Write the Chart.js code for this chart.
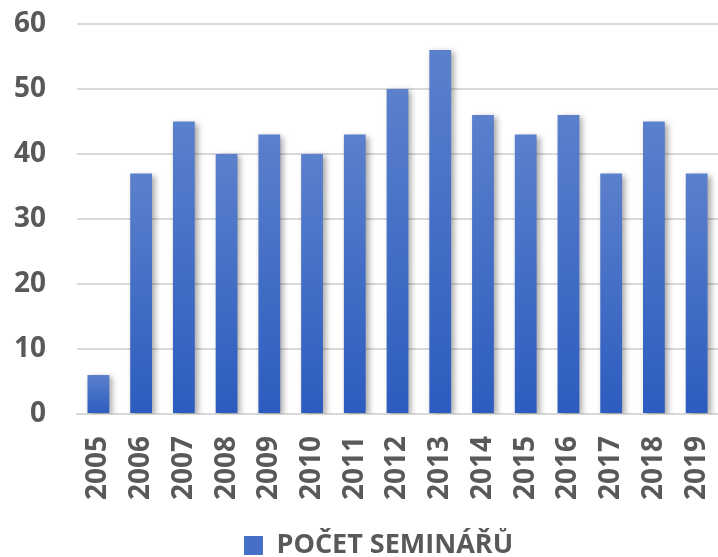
<!DOCTYPE html>
<html lang="cs">
<head>
<meta charset="UTF-8">
<title>Počet seminářů</title>
<script src="https://cdn.jsdelivr.net/npm/chart.js@4"></script>
<style>
  body { margin: 0; background: #fff; }
  #wrap { width: 718px; height: 557px; }
</style>
</head>
<body>
<div id="wrap"><canvas id="chart"></canvas></div>
<script>
  var years = ['2005','2006','2007','2008','2009','2010','2011','2012','2013','2014','2015','2016','2017','2018','2019'];
  var seminars = [6, 37, 45, 40, 43, 40, 43, 50, 56, 46, 43, 46, 37, 45, 37];
  var yTicks = [0, 10, 20, 30, 40, 50, 60];
  var seriesName = 'POČET SEMINÁŘŮ';

  var textColor = '#595959';
  var fontFamily = '"Open Sans", "Liberation Sans", sans-serif';

  // each bar gets its own gradient, light at the top, darker at the bottom
  function barFill(ctx) {
    var chart = ctx.chart;
    var y = chart.scales.y;
    if (!chart.chartArea || !y || ctx.dataIndex === undefined) return '#3d68c4';
    var top = y.getPixelForValue(ctx.raw);
    var base = y.getPixelForValue(0);
    if (!isFinite(top) || !isFinite(base) || top === base) return '#3d68c4';
    var g = chart.ctx.createLinearGradient(0, top, 0, base);
    g.addColorStop(0, '#5b80cc');
    g.addColorStop(1, '#2c5cbf');
    return g;
  }

  // soft shadow behind the bars
  var barShadow = {
    id: 'barShadow',
    beforeDatasetsDraw: function (chart) {
      var c = chart.ctx;
      c.save();
      c.shadowColor = 'rgba(0,0,0,0.35)';
      c.shadowBlur = 6;
      c.shadowOffsetX = 3;
      c.shadowOffsetY = 2;
    },
    afterDatasetsDraw: function (chart) {
      chart.ctx.restore();
    }
  };

  // legend in the original sits a bit right of centre
  var legendShift = {
    id: 'legendShift',
    afterLayout: function (chart) {
      if (!chart.legend) return;
      chart.legend.left += 28;
      chart.legend.right += 28;
    }
  };

  new Chart(document.getElementById('chart'), {
    type: 'bar',
    data: {
      labels: years,
      datasets: [{
        label: seriesName,
        data: seminars,
        backgroundColor: barFill,
        borderWidth: 0,
        categoryPercentage: 1,
        barPercentage: 0.51
      }]
    },
    options: {
      responsive: true,
      maintainAspectRatio: false,
      animation: false,
      layout: { padding: { left: -17, right: 0, top: 24, bottom: -12 } },
      plugins: {
        tooltip: { enabled: false },
        legend: {
          position: 'bottom',
          labels: {
            color: textColor,
            font: { family: fontFamily, size: 27, weight: 'bold' },
            boxWidth: 19,
            boxHeight: 19,
            padding: 4,
            generateLabels: function (chart) {
              var items = Chart.defaults.plugins.legend.labels.generateLabels(chart);
              items.forEach(function (it) {
                it.fillStyle = '#4670c8';
                it.strokeStyle = '#4670c8';
                it.lineWidth = 0;
              });
              return items;
            }
          }
        }
      },
      scales: {
        x: {
          grid: { display: false },
          border: { display: true, color: '#d9d9d9', width: 2 },
          ticks: {
            color: textColor,
            font: { family: fontFamily, size: 28, weight: 'bold' },
            minRotation: 90,
            maxRotation: 90,
            padding: 14
          },
          afterFit: function (axis) {
            axis.height = 114;
            axis.paddingLeft = 0;
            axis.paddingRight = 0;
          }
        },
        y: {
          min: 0,
          max: 60,
          afterBuildTicks: function (axis) {
            axis.ticks = yTicks.map(function (v) { return { value: v }; });
          },
          afterFit: function (axis) {
            axis.paddingTop = 0;
            axis.paddingBottom = 0;
          },
          grid: { color: '#d9d9d9', lineWidth: 2, drawTicks: false },
          border: { display: false },
          ticks: {
            color: textColor,
            font: { family: fontFamily, size: 28, weight: 'bold' },
            padding: 31
          }
        }
      }
    },
    plugins: [barShadow, legendShift]
  });
</script>
</body>
</html>
